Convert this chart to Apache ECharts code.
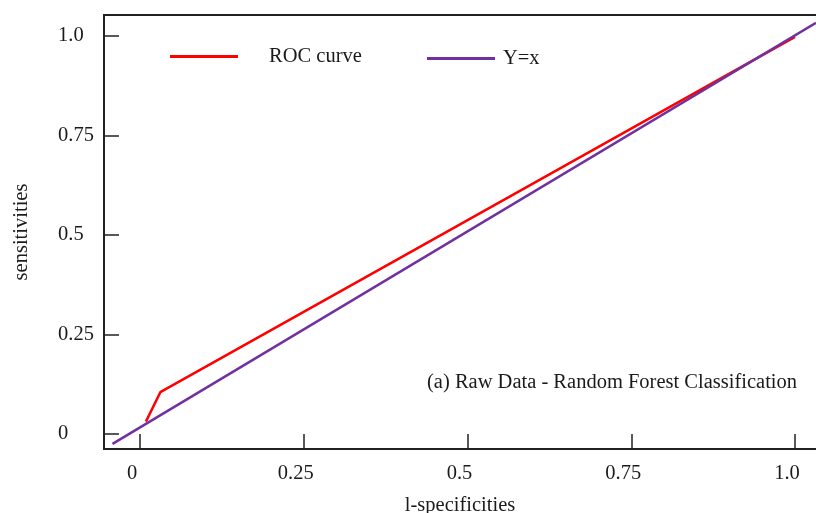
<!DOCTYPE html>
<html>
<head>
<meta charset="utf-8">
<script src="https://cdn.jsdelivr.net/npm/echarts@6/dist/echarts.min.js"></script>
<style>
html,body{margin:0;padding:0;background:#fff;}
#chart{width:816px;height:513px;}
</style>
</head>
<body>
<div id="chart"></div>
<script>
// ---- data ----
const seriesNames = ['ROC curve', 'Y=x'];
const rocX = [0.009, 0.031, 1.0];
const rocY = [0.031, 0.105, 0.998];
const diagX = [-0.042, 1.032];
const diagY = [-0.025, 1.033];
const xTickValues = [0, 0.25, 0.5, 0.75, 1.0];
const xTickLabels = ['0', '0.25', '0.5', '0.75', '1.0'];
const yTickValues = [0, 0.25, 0.5, 0.75, 1.0];
const yTickLabels = ['0', '0.25', '0.5', '0.75', '1.0'];
const xTitle = 'l-specificities';
const yTitle = 'sensitivities';
const annotation = '(a) Raw Data - Random Forest Classification';

const FONT = 'Liberation Serif';
const FS = 20.5;
const TXT = '#1a1a1a';
const AX = '#222';

function pairs(xs, ys) { return xs.map((x, i) => [x, ys[i]]); }
function labelFor(vals, labels) {
  return v => { const i = vals.findIndex(t => Math.abs(t - v) < 1e-9); return i >= 0 ? labels[i] : ''; };
}

const chart = echarts.init(document.getElementById('chart'), null, {renderer: 'canvas'});
chart.setOption({
  animation: false,
  backgroundColor: '#fff',
  grid: {left: 104, top: 15, right: 0, bottom: 64, containLabel: false, outerBoundsMode: 'none'},
  legend: [
    {data: [seriesNames[0]], left: 165, top: 41, icon: 'rect', itemWidth: 68, itemHeight: 3,
     textStyle: {fontFamily: FONT, fontSize: FS, color: TXT, padding: [0, 0, 0, 26]}},
    {data: [seriesNames[1]], left: 422, top: 43, icon: 'rect', itemWidth: 68, itemHeight: 3,
     textStyle: {fontFamily: FONT, fontSize: FS, color: TXT, padding: [0, 0, 0, 3]}}
  ],
  xAxis: [{
    type: 'value', position: 'bottom', min: -0.055, max: 1.032,
    name: xTitle, nameLocation: 'middle', nameGap: 46,
    nameTextStyle: {fontFamily: FONT, fontSize: FS, color: TXT},
    axisLine: {show: true, onZero: false, lineStyle: {color: AX, width: 2}},
    axisTick: {show: true, inside: true, length: 15, customValues: xTickValues, lineStyle: {color: AX, width: 1.5}},
    axisLabel: {show: true, customValues: xTickValues, formatter: labelFor(xTickValues, xTickLabels),
      fontFamily: FONT, fontSize: FS, color: TXT, margin: 14, padding: [0, 16, 0, 0]},
    splitLine: {show: false}
  }, {
    type: 'value', position: 'top', min: -0.055, max: 1.032,
    axisLine: {show: true, onZero: false, lineStyle: {color: AX, width: 2}},
    axisTick: {show: false}, axisLabel: {show: false}, splitLine: {show: false}
  }],
  yAxis: [{
    type: 'value', position: 'left', min: -0.0377, max: 1.0528,
    name: yTitle, nameLocation: 'middle', nameGap: 72, nameRotate: 90,
    nameTextStyle: {fontFamily: FONT, fontSize: FS, color: TXT},
    axisLine: {show: true, onZero: false, lineStyle: {color: AX, width: 2}},
    axisTick: {show: true, inside: true, length: 15, customValues: yTickValues, lineStyle: {color: AX, width: 1.5}},
    axisLabel: {show: true, customValues: yTickValues, formatter: labelFor(yTickValues, yTickLabels),
      fontFamily: FONT, fontSize: FS, color: TXT, margin: 46, align: 'left', padding: [0, 0, 8, 0]},
    splitLine: {show: false}
  }],
  series: [{
    name: seriesNames[0], type: 'line', data: pairs(rocX, rocY),
    showSymbol: false, symbol: 'none', color: '#ff0000',
    lineStyle: {color: '#ff0000', width: 2.5}, z: 3
  }, {
    name: seriesNames[1], type: 'line', data: pairs(diagX, diagY),
    showSymbol: false, symbol: 'none', color: '#7030a0',
    lineStyle: {color: '#7030a0', width: 2.5}, z: 4
  }],
  graphic: [{
    type: 'text', left: 427, top: 372,
    style: {text: annotation, fontFamily: FONT, fontSize: FS, fill: TXT}
  }]
});
</script>
</body>
</html>
